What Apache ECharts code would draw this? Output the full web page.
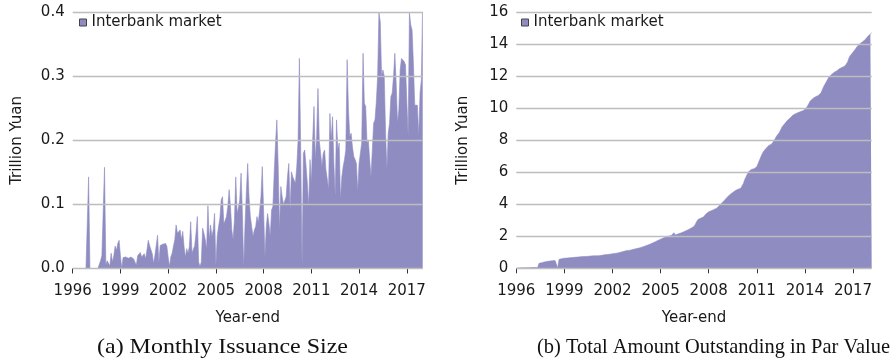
<!DOCTYPE html>
<html>
<head>
<meta charset="utf-8">
<script src="https://cdn.jsdelivr.net/npm/echarts@6/dist/echarts.min.js"></script>
<style>
  html, body { margin: 0; padding: 0; background: #ffffff; }
  #chart { width: 894px; height: 362px; }
</style>
</head>
<body>
<div id="chart"></div>
<script>
// Monthly series start in January 1996
const startYear = 1996;
const seriesName = 'Interbank market';
const yearTicks = [1996, 1999, 2002, 2005, 2008, 2011, 2014, 2017];
const issuanceTicks = [0, 0.1, 0.2, 0.3, 0.4];
const outstandingTicks = [0, 2, 4, 6, 8, 10, 12, 14, 16];
const captions = ['(a) Monthly Issuance Size', '(b) Total Amount Outstanding in Par Value'];

// Monthly issuance size, trillion yuan (one row per year)
const monthlyIssuance = [
  0, 0, 0, 0, 0, 0, 0, 0, 0, 0, 0, 0,
  0.143, 0, 0, 0, 0, 0, 0, 0, 0, 0.012, 0.02, 0.018,
  0.158, 0.005, 0.012, 0.015, 0.004, 0.024, 0.01, 0.02, 0.035, 0.028, 0.039, 0.044,
  0.02, 0, 0.017, 0.019, 0.018, 0.02, 0.016, 0.014, 0.018, 0.02, 0.015, 0.012,
  0.005, 0.02, 0.022, 0.025, 0.018, 0.02, 0.023, 0.015, 0.029, 0.044, 0.036, 0.034,
  0.023, 0.008, 0.02, 0.022, 0.052, 0.008, 0.036, 0.038, 0.038, 0.036, 0.039, 0.035,
  0.018, 0.003, 0.018, 0.024, 0.035, 0.045, 0.068, 0.055, 0.058, 0.06, 0.045, 0.058,
  0.034, 0.018, 0.031, 0.024, 0.034, 0.073, 0.024, 0.03, 0.035, 0.055, 0.081, 0.01,
  0.003, 0.01, 0.063, 0.055, 0.045, 0.03, 0.098, 0.045, 0.068, 0.05, 0.06, 0.086,
  0.003, 0.05, 0.065, 0.078, 0.107, 0.112, 0.07, 0.075, 0.081, 0.097, 0.123, 0.097,
  0.06, 0.045, 0.076, 0.143, 0.086, 0.095, 0.107, 0.149, 0.086, 0, 0.07, 0.12,
  0.164, 0.112, 0.081, 0.065, 0.05, 0.06, 0.065, 0.081, 0.072, 0.09, 0.112, 0.159,
  0.09, 0.018, 0.065, 0.086, 0.07, 0.05, 0.091, 0.097, 0.15, 0.196, 0.232, 0.16,
  0.06, 0.128, 0.112, 0.1, 0.1, 0.112, 0.143, 0.164, 0.091, 0.151, 0.143, 0.14,
  0.133, 0.159, 0.2, 0.328, 0.185, 0, 0.18, 0.185, 0.16, 0.133, 0.097, 0.17,
  0.133, 0.2, 0.253, 0.17, 0.206, 0.281, 0.2, 0.18, 0.159, 0.18, 0.185, 0.154,
  0.14, 0.123, 0.242, 0.2, 0.237, 0.164, 0.112, 0.232, 0.185, 0.196, 0.107, 0.143,
  0.159, 0.17, 0.185, 0.326, 0.248, 0.206, 0.211, 0.19, 0.175, 0.17, 0.164, 0.12,
  0.164, 0.18, 0.196, 0.336, 0.258, 0.253, 0.196, 0.2, 0.17, 0.143, 0.185, 0.227,
  0.232, 0.26, 0.3, 0.399, 0.385, 0.3, 0.31, 0.3, 0.211, 0.154, 0.211, 0.227,
  0.268, 0.274, 0.3, 0.336, 0.289, 0.227, 0.248, 0.31, 0.328, 0.326, 0.323, 0.318,
  0.315, 0.206, 0.399, 0.38, 0.372, 0.32, 0.255, 0.258, 0.255, 0.206, 0.274, 0.295,
  0.42
];

// Total amount outstanding at par value, trillion yuan (one row per year)
const amountOutstanding = [
  0.01, 0.02, 0.02, 0.03, 0.03, 0.03, 0.03, 0.04, 0.04, 0.04, 0.04, 0.05,
  0.05, 0.05, 0.05, 0.05, 0.05, 0.31, 0.33, 0.35, 0.37, 0.39, 0.41, 0.43,
  0.44, 0.45, 0.46, 0.47, 0.48, 0.49, 0.5, 0.02, 0.56, 0.58, 0.6, 0.62,
  0.63, 0.64, 0.64, 0.65, 0.66, 0.66, 0.67, 0.68, 0.69, 0.69, 0.70, 0.71,
  0.72, 0.72, 0.73, 0.74, 0.74, 0.75, 0.75, 0.76, 0.77, 0.77, 0.78, 0.78,
  0.78, 0.79, 0.79, 0.80, 0.81, 0.82, 0.84, 0.85, 0.86, 0.87, 0.88, 0.90,
  0.91, 0.92, 0.93, 0.94, 0.96, 0.98, 1.00, 1.02, 1.05, 1.07, 1.09, 1.11,
  1.12, 1.13, 1.15, 1.17, 1.19, 1.21, 1.23, 1.25, 1.27, 1.29, 1.32, 1.35,
  1.38, 1.41, 1.44, 1.47, 1.50, 1.54, 1.58, 1.62, 1.66, 1.70, 1.74, 1.78,
  1.82, 1.86, 1.89, 1.92, 1.95, 1.98, 2.01, 2.03, 2.05, 2.07, 2.22, 2.08,
  2.12, 2.14, 2.17, 2.20, 2.23, 2.27, 2.31, 2.35, 2.39, 2.43, 2.47, 2.52,
  2.56, 2.62, 2.75, 2.92, 3.05, 3.10, 3.13, 3.16, 3.20, 3.28, 3.40, 3.50,
  3.53, 3.56, 3.60, 3.64, 3.68, 3.72, 3.76, 3.82, 3.92, 4.02, 4.10, 4.20,
  4.27, 4.36, 4.45, 4.55, 4.62, 4.68, 4.74, 4.80, 4.86, 4.90, 4.94, 4.98,
  5.00, 5.10, 5.30, 5.55, 5.72, 5.90, 6.05, 6.15, 6.18, 6.20, 6.22, 6.26,
  6.35, 6.55, 6.75, 6.95, 7.15, 7.30, 7.40, 7.50, 7.60, 7.68, 7.72, 7.76,
  7.82, 7.98, 8.15, 8.28, 8.38, 8.50, 8.68, 8.85, 8.95, 9.05, 9.15, 9.25,
  9.30, 9.40, 9.50, 9.57, 9.62, 9.66, 9.70, 9.73, 9.76, 9.80, 9.83, 9.87,
  9.90, 10.00, 10.15, 10.30, 10.45, 10.55, 10.62, 10.68, 10.72, 10.76, 10.80, 10.84,
  10.95, 11.15, 11.35, 11.50, 11.65, 11.80, 11.95, 12.05, 12.12, 12.20, 12.25, 12.30,
  12.35, 12.42, 12.48, 12.52, 12.56, 12.60, 12.65, 12.72, 12.90, 13.15, 13.30, 13.40,
  13.50, 13.60, 13.72, 13.85, 13.95, 14.02, 14.08, 14.15, 14.20, 14.28, 14.38, 14.48,
  14.58, 14.65, 14.72
];

const FILL = '#8f8cc2';
const SANS = 'DejaVu Sans';
const SERIF = 'Liberation Serif';
const TEXT = '#1a1a1a';

const toPoints = arr => arr.map((v, i) => [startYear + i / 12, v]);
const lastX = arr => startYear + (arr.length - 1) / 12;

function xAxisFor(gridIndex, max) {
  return {
    type: 'value', gridIndex, min: startYear, max,
    offset: 1.5,
    axisLine: { show: false },
    axisTick: { show: true, length: 5, lineStyle: { color: '#333', width: 1 }, customValues: yearTicks },
    axisLabel: { customValues: yearTicks, margin: 14, fontFamily: SANS, fontSize: 15, color: TEXT,
                 formatter: v => String(Math.round(v)) },
    splitLine: { show: false },
    name: 'Year-end', nameLocation: 'middle', nameGap: 41,
    nameTextStyle: { fontFamily: SANS, fontSize: 15, color: TEXT }
  };
}

function yAxisFor(gridIndex, ticks, digits, nameGap) {
  return {
    type: 'value', gridIndex, min: ticks[0], max: ticks[ticks.length - 1],
    interval: ticks[1] - ticks[0],
    z: 3,
    axisLine: { show: false },
    axisTick: { show: false },
    axisLabel: { margin: 8, fontFamily: SANS, fontSize: 15, color: TEXT,
                 formatter: v => v.toFixed(digits) },
    splitLine: { show: true, lineStyle: { color: '#bdbdbd', width: 1.3 } },
    name: 'Trillion Yuan', nameLocation: 'middle', nameRotate: 90, nameGap,
    nameTextStyle: { fontFamily: SANS, fontSize: 15, color: TEXT }
  };
}

function areaSeries(data, idx) {
  return {
    name: seriesName, type: 'line', xAxisIndex: idx, yAxisIndex: idx,
    data: toPoints(data), showSymbol: false, symbol: 'none', sampling: null,
    lineStyle: { color: FILL, width: 0.6 },
    areaStyle: { color: FILL, opacity: 1 },
    itemStyle: { color: FILL },
    z: 2
  };
}

function legendFor(left) {
  return {
    data: [seriesName], left, top: 15, padding: 0,
    icon: 'rect', itemWidth: 7, itemHeight: 7,
    itemStyle: { color: FILL, borderColor: '#444', borderWidth: 1 },
    textStyle: { fontFamily: SANS, fontSize: 15, color: TEXT },
    selectedMode: false
  };
}

// Stretch a serif caption to its measured target width
const measureCtx = document.createElement('canvas').getContext('2d');
function captionText(text, cx, cy, targetWidth) {
  measureCtx.font = '21px "' + SERIF + '"';
  const w = measureCtx.measureText(text).width;
  const sx = targetWidth / w;
  return {
    type: 'text', x: cx, y: cy, scaleX: sx, scaleY: 1,
    style: { text, x: 0, y: 0, align: 'center', verticalAlign: 'middle',
             font: '21px "' + SERIF + '"', fill: '#111' }
  };
}

const chart = echarts.init(document.getElementById('chart'), null, { renderer: 'canvas' });
chart.setOption({
  animation: false,
  backgroundColor: '#ffffff',
  grid: [
    { left: 72.7, top: 12.3, width: 350, height: 256.2 },
    { left: 516.3, top: 12.3, width: 355.4, height: 256 }
  ],
  xAxis: [xAxisFor(0, lastX(monthlyIssuance)), xAxisFor(1, lastX(amountOutstanding))],
  yAxis: [yAxisFor(0, issuanceTicks, 1, 48.5), yAxisFor(1, outstandingTicks, 0, 45.5)],
  legend: [legendFor(79), legendFor(521)],
  series: [areaSeries(monthlyIssuance, 0), areaSeries(amountOutstanding, 1)],
  graphic: [
    captionText(captions[0], 222.5, 347, 251),
    captionText(captions[1], 713.5, 347, 353)
  ]
});
</script>
</body>
</html>
